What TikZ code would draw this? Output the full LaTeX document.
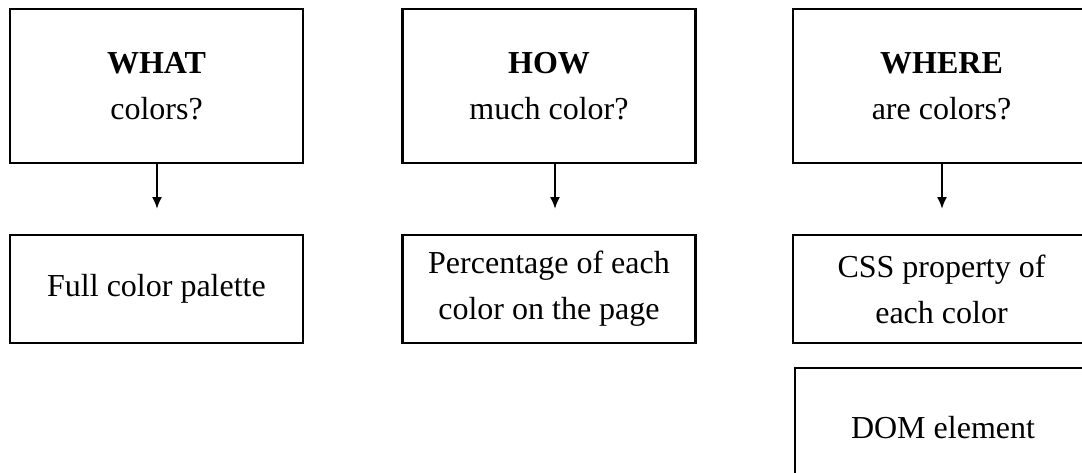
\documentclass[tikz,border=0pt]{standalone}
\usepackage{fontspec}
\setmainfont{Liberation Serif}
\usetikzlibrary{arrows.meta}

\tikzset{
  box/.style={draw, line width=2.8pt, minimum width=293pt, minimum height=154pt,
    align=center, inner sep=0pt, font=\fontsize{32}{46}\selectfont},
  lowbox/.style={box, minimum height=108pt},
  arr/.style={line width=2pt, -{Latex[length=12pt,width=10pt]}}
}

\begin{document}
\begin{tikzpicture}[x=1pt,y=-1pt]
  \useasboundingbox (0,0) rectangle (1082,472);
  % top row
  \node[box] (what) at (156.5,86) {\textbf{WHAT}\\colors?};
  \node[box] (how) at (549,86) {\textbf{HOW}\\much color?};
  \node[box, minimum width=297pt] (where) at (941.5,86) {\textbf{WHERE}\\are colors?};
  % bottom row
  \node[lowbox] (palette) at (156.5,289) {Full color palette};
  \node[lowbox] (share) at (549,289) {Percentage of each\\color on the page};
  \node[lowbox, minimum width=297pt] (css) at (941.5,289) {CSS property of\\each color};
  \node[box, minimum width=296pt, minimum height=120pt] (dom) at (943,428) {DOM element};
  % arrow ends
  \coordinate (whatend) at (157,209);
  \coordinate (howend) at (555,209);
  \coordinate (whereend) at (942,209);
  \draw[arr] (whatend |- what.south) -- (whatend);
  \draw[arr] (howend |- how.south) -- (howend);
  \draw[arr] (whereend |- where.south) -- (whereend);
\end{tikzpicture}
\end{document}
